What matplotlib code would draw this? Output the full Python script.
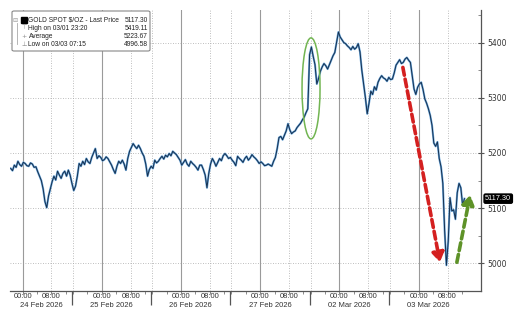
#!/usr/bin/env python3
"""Gold spot intraday chart, 24 Feb - 03 Mar 2026 (Bloomberg style)."""
import numpy as np
import matplotlib
matplotlib.use('Agg')
import matplotlib.pyplot as plt
from matplotlib.patches import Ellipse, FancyBboxPatch, Rectangle
from matplotlib.transforms import blended_transform_factory

# ---- data -------------------------------------------------------------
# trading hours since the 24 Feb session open, sampled every 30 minutes
start_hour = 5.0
step_hours = 0.5
prices = [
    5172, 5168, 5178, 5174, 5185, 5179, 5176, 5183, 5181, 5177,
    5176, 5182, 5180, 5174, 5175, 5166, 5158, 5150, 5135, 5112,
    5101, 5122, 5135, 5148, 5158, 5151, 5167, 5160, 5154, 5163,
    5167, 5158, 5169, 5160, 5145, 5132, 5140, 5158, 5181, 5176,
    5185, 5179, 5190, 5184, 5181, 5192, 5200, 5208, 5190, 5195,
    5192, 5186, 5188, 5193, 5190, 5184, 5178, 5170, 5163, 5176,
    5185, 5181, 5187, 5180, 5169, 5190, 5203, 5210, 5217, 5212,
    5208, 5214, 5208, 5200, 5194, 5180, 5158, 5170, 5176, 5172,
    5187, 5182, 5185, 5190, 5194, 5189, 5196, 5193, 5199, 5195,
    5203, 5200, 5197, 5192, 5187, 5178, 5183, 5188, 5180, 5176,
    5185, 5181, 5178, 5174, 5169, 5178, 5178, 5170, 5160, 5137,
    5163, 5180, 5190, 5184, 5176, 5183, 5190, 5186, 5195, 5199,
    5195, 5190, 5192, 5187, 5183, 5177, 5194, 5190, 5187, 5183,
    5190, 5194, 5187, 5191, 5197, 5193, 5190, 5186, 5181, 5184,
    5181, 5177, 5178, 5180, 5178, 5176, 5185, 5192, 5208, 5228,
    5230, 5224, 5232, 5240, 5253, 5242, 5235, 5238, 5240, 5246,
    5250, 5254, 5260, 5265, 5273, 5280, 5378, 5392, 5375, 5360,
    5325, 5335, 5348, 5356, 5362, 5358, 5352, 5360, 5368, 5376,
    5382, 5400, 5419.11, 5410, 5405, 5400, 5398, 5394, 5391, 5387,
    5393, 5388, 5391, 5398, 5383, 5350, 5325, 5300, 5271, 5290,
    5312, 5306, 5320, 5314, 5328, 5335, 5340, 5336, 5334, 5330,
    5337, 5333, 5334, 5345, 5359, 5364, 5369, 5362, 5364, 5370,
    5373, 5368, 5364, 5340, 5316, 5306, 5319, 5325, 5328, 5315,
    5298, 5290, 5280, 5268, 5250, 5218, 5212, 5220, 5190, 5175,
    5145, 5060, 4996.58, 5040, 5119, 5095, 5097, 5080, 5128, 5145,
    5137, 5105, 5117.30,
]

# session starts (trading hours) and day labels
day_starts = [0, 22, 44, 66, 88, 110]
day_labels = ['24 Feb 2026', '25 Feb 2026', '26 Feb 2026',
              '27 Feb 2026', '02 Mar 2026', '03 Mar 2026']
midnight_offset = 8.3  # hours from session open to 00:00
day_length = 22

legend_rows = [
    ('GOLD SPOT $/OZ - Last Price', '5117.30'),
    ('High on 03/01 23:20', '5419.11'),
    ('Average', '5223.67'),
    ('Low on 03/03 07:15', '4996.58'),
]
last_price = 5117.30
y_ticks = [5000, 5100, 5200, 5300, 5400]

# ---- figure -----------------------------------------------------------
W, H = 516, 325
fig = plt.figure(figsize=(W / 100, H / 100), dpi=100)
ax = fig.add_axes([10 / W, 1 - 291 / H, 471 / W, 281 / H])

hours = start_hour + step_hours * np.arange(len(prices))
xmin, xmax = 4.8, 135.6
ax.set_xlim(xmin, xmax)
ax.set_ylim(4955, 5459)

grid_col = '#a8a8a8'
dot = (0, (1, 2))

# horizontal dotted gridlines
for v in y_ticks:
    ax.axhline(v, color=grid_col, lw=0.6, ls=dot, zorder=1)

# vertical gridlines: solid at 00:00, dotted at 08:00 and session opens
for d in day_starts:
    ax.axvline(d + midnight_offset, color='#9a9a9a', lw=0.8, zorder=1)
    ax.axvline(d + midnight_offset + 8, color=grid_col, lw=0.6, ls=dot, zorder=1)
    if d > 0:
        ax.axvline(d + 0.3, color=grid_col, lw=0.6, ls=dot, zorder=1)

# price line (light glow + dark core)
ax.plot(hours, prices, color='#6aa6da', lw=1.5, zorder=3)
ax.plot(hours, prices, color='#16304f', lw=0.7, zorder=4)

# spines
for s in ('top', 'left'):
    ax.spines[s].set_visible(False)
for s in ('right', 'bottom'):
    ax.spines[s].set_color('#555555')
    ax.spines[s].set_linewidth(0.9)

# y axis on the right
ax.yaxis.tick_right()
ax.set_yticks(y_ticks)
ax.set_yticklabels([str(v) for v in y_ticks])
ax.set_yticks(np.arange(4950, 5460, 50), minor=True)
ax.tick_params(axis='y', which='major', direction='inout', length=5, width=0.8,
               colors='#555555', labelsize=5.5, pad=2, labelcolor='#333333')
ax.tick_params(axis='y', which='minor', direction='in', length=2, width=0.6,
               colors='#777777')

# x axis: long ticks at session boundaries, small ticks every 4h
ax.set_xticks(day_starts[1:])
ax.set_xticklabels([])
minor = [d + midnight_offset + k for d in day_starts for k in (-8, -4, 0, 4, 8, 12)]
ax.set_xticks([m for m in minor if xmin < m < xmax], minor=True)
ax.tick_params(axis='x', which='major', direction='out', length=10, width=0.9,
               colors='#555555')
ax.tick_params(axis='x', which='minor', direction='out', length=2, width=0.6,
               colors='#777777')

trans = blended_transform_factory(ax.transData, ax.transAxes)
lab = dict(fontsize=5.5, color='#333333', family='Liberation Sans', ha='center', va='top')
for d, name in zip(day_starts, day_labels):
    m = d + midnight_offset
    for x, s in ((m, '00:00'), (m + 8, '08:00')):
        ax.annotate(s, (x, 0), xycoords=trans, xytext=(0, -1.8),
                    textcoords='offset points', **lab)
    lo, hi = max(d, xmin), min(d + day_length, xmax)
    ax.annotate(name, ((lo + hi) / 2, 0), xycoords=trans, xytext=(0, -8),
                textcoords='offset points', **lab)

# last price tag
ax.annotate(f'{last_price:.2f}', (1, last_price),
            xycoords=('axes fraction', 'data'), xytext=(3, 0),
            textcoords='offset points', ha='left', va='center',
            fontsize=5.3, color='white', family='Liberation Sans',
            bbox=dict(boxstyle='round,pad=0.15,rounding_size=0.2',
                      fc='black', ec='black'), zorder=6)

# annotations: green ellipse around the Monday gap, arrows
ax.add_patch(Ellipse((88.4, 5317), 5.0, 183, fill=False, ec='#72b552',
                     lw=1.1, zorder=5))
ax.annotate('', xy=(124.2, 5002), xytext=(113.9, 5355),
            arrowprops=dict(arrowstyle='-|>,head_length=0.55,head_width=0.35',
                            lw=2.6, ls=(0, (2.2, 1.1)), color='#d42020',
                            shrinkA=0, shrinkB=0), zorder=6)
ax.annotate('', xy=(132.6, 5124), xytext=(128.9, 5002),
            arrowprops=dict(arrowstyle='-|>,head_length=0.55,head_width=0.35',
                            lw=2.6, ls=(0, (2.2, 1.1)), color='#5e9228',
                            shrinkA=0, shrinkB=0), zorder=6)

# legend box (figure pixel coordinates)
def fx(px):
    return px / W


def fy(py):
    return 1 - py / H


fig.patches.append(FancyBboxPatch((fx(12), fy(51)), fx(138), 40 / H,
                                  boxstyle='round,pad=0,rounding_size=0.004',
                                  transform=fig.transFigure, fc='white',
                                  ec='#888888', lw=0.8, zorder=10))
fig.patches.append(Rectangle((fx(21), fy(23)), fx(6), 6 / H, transform=fig.transFigure,
                             fc='black', ec='black', zorder=11))
fig.lines.append(plt.Line2D([fx(17), fx(17)], [fy(23), fy(44)],
                            transform=fig.transFigure, color='#aaaaaa', lw=0.6,
                            zorder=11))
row_y = [20, 28, 36, 44]
icons = ['', '\u22a4', '+', '\u22a5']
txt = dict(fontsize=4.8, family='Liberation Sans', color='#222222', va='center',
           zorder=12)
fig.text(fx(15.5), fy(20), '\u229f', fontsize=4.5, color='#999999', ha='center',
         va='center', zorder=12)
for (name, val), yy, ic in zip(legend_rows, row_y, icons):
    if ic:
        fig.text(fx(24), fy(yy), ic, fontsize=4.5, color='#888888', ha='center',
                 va='center', zorder=12)
    fig.text(fx(28.5), fy(yy), name, ha='left', **txt)
    fig.text(fx(148), fy(yy), val, ha='right', **txt)

fig.savefig('out.png', dpi=100)
